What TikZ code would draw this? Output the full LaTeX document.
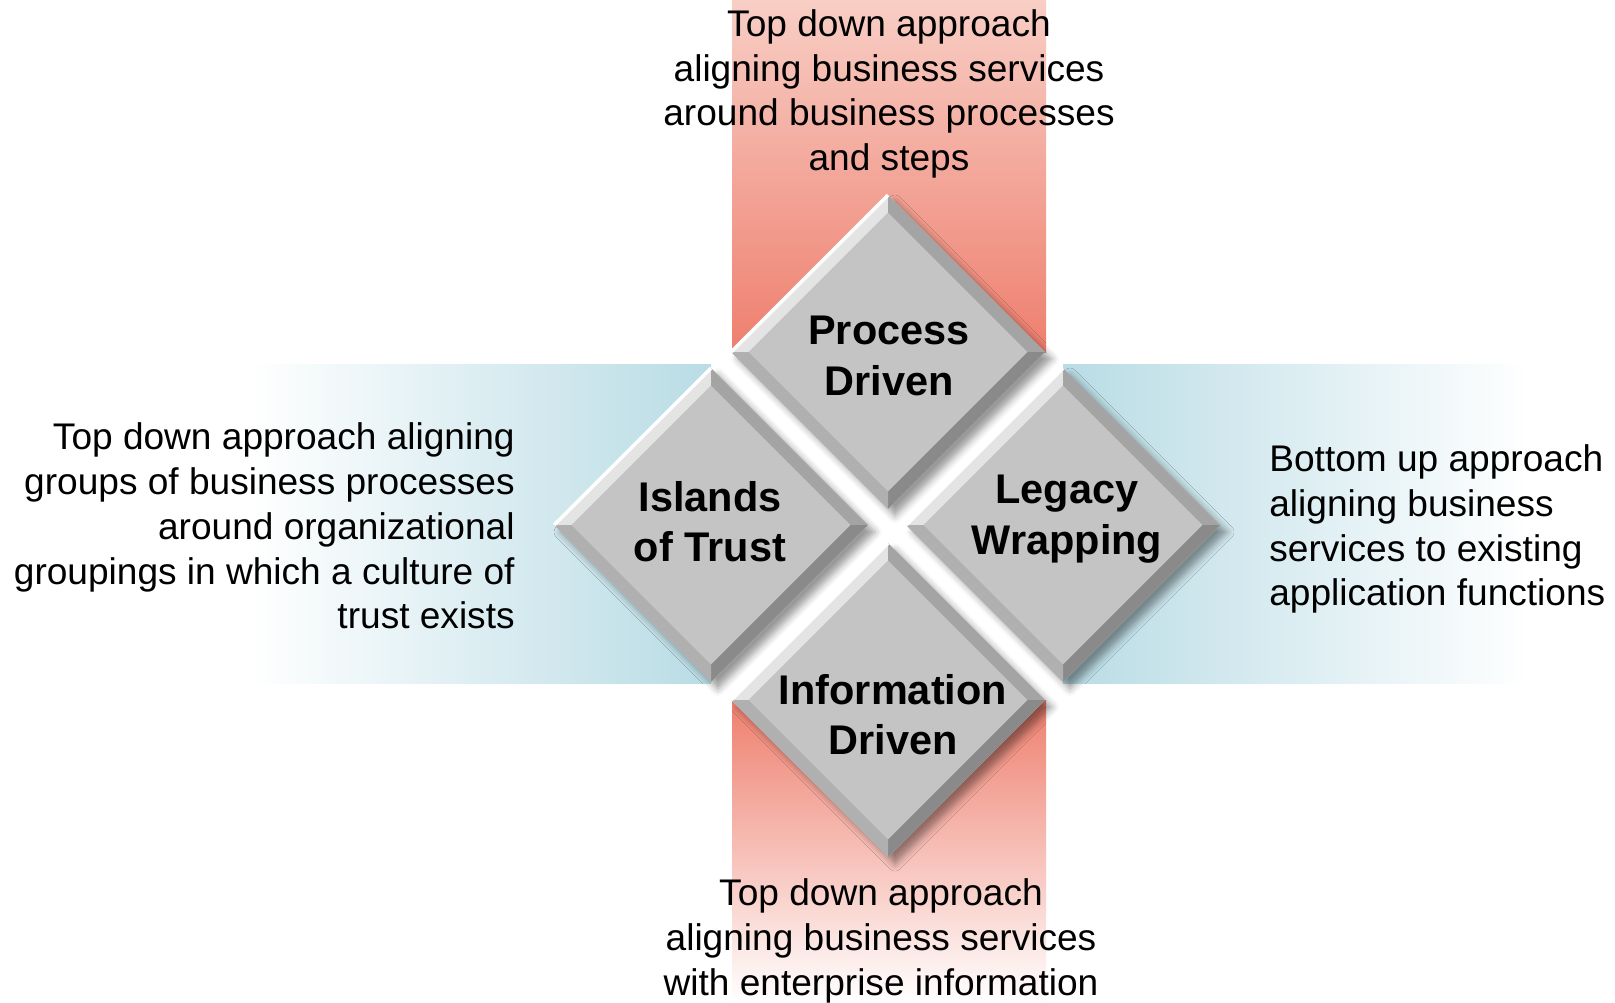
\documentclass[tikz,border=0pt]{standalone}
\usepackage{fontspec}
\setmainfont{Liberation Sans}
\usetikzlibrary{positioning,calc,shapes.geometric,shadows.blur}
\definecolor{redhi}{HTML}{EE7F6E}
\definecolor{redlo}{HTML}{F8CEC5}
\definecolor{bluebar}{HTML}{B9DCE5}
\definecolor{facegray}{HTML}{C4C4C4}
\definecolor{bevtl}{HTML}{E4E4E4}
\definecolor{bevtr}{HTML}{A4A4A4}
\definecolor{bevbr}{HTML}{8A8A8A}
\definecolor{bevbl}{HTML}{B0B0B0}

\begin{document}
\begin{tikzpicture}
[x=0.02cm,y=-0.02cm,
 tile/.style={diamond,aspect=1,minimum width=6.28cm,minimum height=6.28cm,
   inner sep=0pt,outer sep=0pt,fill=facegray,
   blur shadow={shadow xshift=4pt,shadow yshift=-4pt,shadow blur radius=4pt,shadow opacity=40}},
 tilelbl/.style={font=\fontsize{23.6}{28.6}\selectfont\bfseries,align=center,inner sep=0pt},
 note/.style={font=\fontsize{21.1}{25.5}\selectfont,inner sep=0pt}]
\useasboundingbox (0,0) rectangle (1615,1002);
% bars behind the tiles
\shade[top color=redlo,bottom color=redhi] (732,0) rectangle (1046,352);
\shade[top color=redhi,bottom color=white] (732,700) rectangle (1046,1002);
\shade[left color=white,right color=bluebar] (250,364) rectangle (711,683);
\shade[left color=bluebar,right color=white] (1063,364) rectangle (1530,683);
% the four tiles
\node[tile] (proc) at (888,352) {};
\node[tile] (isle) at (711,525) {};
\node[tile] (legacy) at (1063,525) {};
\node[tile] (info) at (888,700) {};
\foreach \t in {proc,isle,legacy,info}{
  \coordinate (\t-n) at ($(\t.center)!0.89!(\t.north)$);
  \coordinate (\t-e) at ($(\t.center)!0.89!(\t.east)$);
  \coordinate (\t-s) at ($(\t.center)!0.89!(\t.south)$);
  \coordinate (\t-w) at ($(\t.center)!0.89!(\t.west)$);
  \fill[bevtl] (\t.west) -- (\t.north) -- (\t-n) -- (\t-w) -- cycle;
  \fill[bevtr] (\t.north) -- (\t.east) -- (\t-e) -- (\t-n) -- cycle;
  \fill[bevbr] (\t.east) -- (\t.south) -- (\t-s) -- (\t-e) -- cycle;
  \fill[bevbl] (\t.south) -- (\t.west) -- (\t-w) -- (\t-s) -- cycle;
  \draw[white,line width=2pt] (\t.west) -- (\t.north);
}
\node[tilelbl] (procT) at (889,356) {Process\\Driven};
\node[tilelbl] (isleT) at (710,522) {Islands\\of Trust};
\node[tilelbl] (legacyT) at (1067,519) {Legacy\\Wrapping};
\node[tilelbl] (infoT) at (893,715) {Information\\Driven};
% descriptions
\node[note,align=center] (procN) at (889,94) {Top down approach\\aligning business services\\around business processes\\and steps};
\node[note,align=center] (infoN) at (881,941) {Top down approach\\aligning business services\\with enterprise information};
\node[note,align=right,anchor=east] (isleN) at (515,526) {Top down approach aligning\\groups of business processes\\around organizational\\groupings in which a culture of\\trust exists};
\node[note,align=left,anchor=west] (legacyN) at (1269,529) {Bottom up approach\\aligning business\\services to existing\\application functions};
\end{tikzpicture}
\end{document}
